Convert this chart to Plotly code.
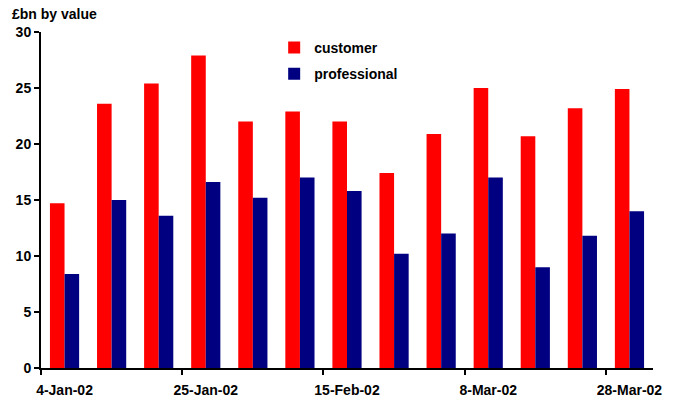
import plotly.graph_objects as go

dates = ["4-Jan-02", "11-Jan-02", "18-Jan-02", "25-Jan-02", "1-Feb-02", "8-Feb-02",
         "15-Feb-02", "22-Feb-02", "1-Mar-02", "8-Mar-02", "15-Mar-02", "22-Mar-02", "28-Mar-02"]
customer = [14.7, 23.6, 25.4, 27.9, 22.0, 22.9, 22.0, 17.4, 20.9, 25.0, 20.7, 23.2, 24.9]
professional = [8.4, 15.0, 13.6, 16.6, 15.2, 17.0, 15.8, 10.2, 12.0, 17.0, 9.0, 11.8, 14.0]
label_every = 3

idx = list(range(len(dates)))
tickvals = idx[::label_every]
ticktext = [dates[i] for i in tickvals]
boundaries = [i - 0.5 for i in tickvals]

font_family = "Liberation Sans, Arial, sans-serif"

fig = go.Figure()
fig.add_trace(go.Bar(x=idx, y=customer, name="customer", marker_color="#FF0000",
                     marker_line_width=0, legendgroup="a"))
fig.add_trace(go.Bar(x=idx, y=professional, name="professional", marker_color="#000080",
                     marker_line_width=0, legendgroup="b"))

fig.update_layout(
    width=677, height=398,
    margin=dict(l=41, r=24, t=32, b=30),
    paper_bgcolor="white", plot_bgcolor="white",
    barmode="group", bargap=0.38, bargroupgap=0,
    font=dict(family=font_family, size=14, color="black", weight="bold"),
    legend=dict(x=0.381, y=1.0, xanchor="left", yanchor="top",
                bgcolor="rgba(0,0,0,0)", tracegroupgap=5,
                font=dict(size=14, weight="bold")),
    annotations=[dict(text="£bn by value", xref="paper", yref="paper",
                      x=-0.05, y=1.0, yshift=18, xanchor="left", yanchor="middle",
                      showarrow=False, font=dict(size=14, weight="bold"))],
)
fig.update_xaxes(
    range=[-0.5, len(dates) - 0.5],
    tickmode="array", tickvals=tickvals, ticktext=ticktext,
    ticks="", showgrid=False, zeroline=False,
    showline=True, linecolor="black", linewidth=2,
    tickfont=dict(size=14, weight="bold"),
    ticklabelstandoff=8, automargin=False,
    minor=dict(tickmode="array", tickvals=boundaries, ticks="outside",
               ticklen=5, tickwidth=2, tickcolor="black", showgrid=False),
)
fig.update_yaxes(
    range=[0, 30], tickmode="linear", tick0=0, dtick=5,
    ticks="outside", ticklen=5, tickwidth=2, tickcolor="black",
    showgrid=False, zeroline=False, automargin=False,
    showline=True, linecolor="black", linewidth=2,
    tickfont=dict(size=14, weight="bold"),
)

fig.write_html("out.html")
